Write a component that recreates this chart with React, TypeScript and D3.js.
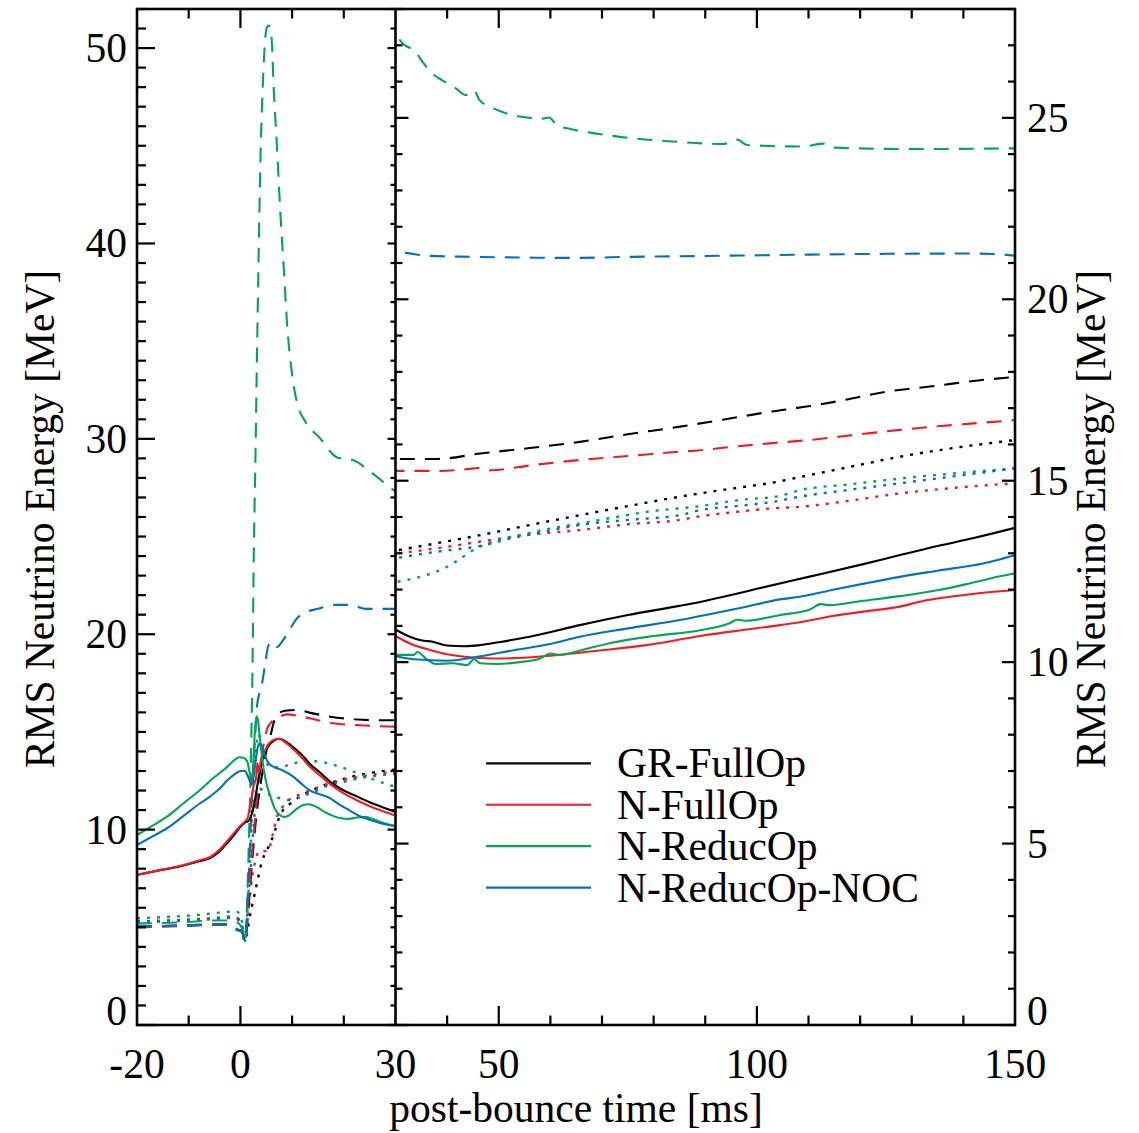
import React from "react";
import * as d3 from "d3";

// ---------- data: [post-bounce time (ms), RMS energy (MeV)] ----------
// solid = nu_e, dotted = anti-nu_e, dashed = nu_x
const grNue: [number, number][] = [[-20,7.68],[-16,7.9],[-12,8.1],[-8,8.38],[-5.85,8.55],[-4,8.9],[-2.6,9.3],[-1,9.8],[0,10.15],[0.8,10.35],[1.6,10.45],[2.2,10.8],[2.6,11.2],[3.5,12.6],[4.5,13.8],[5.5,14.3],[6.5,14.55],[7.5,14.65],[8.5,14.55],[10.3,14.2],[12,13.8],[13.5,13.35],[15.5,12.9],[17.5,12.42],[20,12.0],[22.5,11.7],[25,11.4],[27.5,11.15],[30,10.9],[32,10.75],[35.5,10.59],[37,10.57],[40,10.46],[43.3,10.44],[46.4,10.47],[50,10.55],[56,10.7],[65.7,11.02],[75,11.3],[85,11.55],[89,11.66],[95,11.85],[100,12.02],[110,12.35],[120,12.68],[127.7,12.95],[135,13.2],[142,13.42],[150,13.7]];
const nFullNue: [number, number][] = [[-20,7.68],[-16,7.9],[-12,8.12],[-8,8.42],[-5.85,8.6],[-4,8.98],[-2.6,9.4],[-1,9.9],[0,10.2],[0.8,10.4],[1.4,10.6],[2.0,11.4],[2.6,12.3],[3.0,12.6],[3.3,13.4],[3.6,12.9],[4.0,13.6],[4.5,13.9],[5.5,14.4],[6.5,14.6],[7.5,14.65],[8.5,14.5],[10.3,14.1],[12,13.65],[13.5,13.2],[15.5,12.75],[17.5,12.3],[20,11.85],[22.5,11.5],[25,11.2],[27.5,10.95],[30,10.72],[33,10.5],[36.8,10.33],[40,10.22],[43.3,10.15],[49,10.1],[55,10.12],[59.2,10.17],[70,10.33],[78.6,10.47],[89,10.72],[97,10.88],[104.5,11.02],[108.3,11.1],[115,11.28],[121,11.4],[127.7,11.53],[132,11.68],[137.4,11.8],[143,11.9],[150,11.99]];
const nReducNue: [number, number][] = [[-20,9.72],[-17,10.2],[-14.2,10.66],[-11,11.35],[-7.8,12.03],[-5.85,12.5],[-4,12.9],[-2.6,13.2],[-1.2,13.55],[-0.2,13.7],[0.6,13.68],[1.3,13.5],[1.8,12.9],[2.2,12.3],[2.5,13.5],[2.8,15.0],[3.1,15.8],[3.4,15.6],[3.8,14.6],[4.5,13.1],[5.2,12.2],[5.8,11.7],[6.6,11.1],[7.4,10.8],[8.3,10.65],[9.2,10.7],[10.6,11.0],[12,11.25],[13.2,11.3],[14.8,11.15],[16,10.95],[17.5,10.75],[19.4,10.58],[21,10.55],[22.5,10.62],[24,10.65],[25.5,10.55],[27.5,10.35],[30,10.2],[33.6,10.2],[34.2,10.28],[36.2,10.06],[37.8,9.95],[41,9.97],[43.9,9.92],[45.2,10.08],[46.4,9.97],[49.7,9.95],[54,10.0],[58,10.1],[60,10.24],[61.8,10.2],[66,10.33],[72.1,10.54],[80,10.72],[89,10.88],[94.7,11.07],[96.2,11.17],[97.9,11.14],[104.5,11.3],[110.3,11.45],[112.3,11.6],[114.2,11.57],[120,11.68],[127.7,11.82],[135,11.98],[140.6,12.15],[145,12.3],[150,12.45]];
const nNocNue: [number, number][] = [[-20,9.21],[-17,9.65],[-14.2,10.07],[-11,10.7],[-7.8,11.35],[-5.85,11.7],[-4,12.1],[-2.6,12.5],[-1,12.85],[0,13.0],[0.9,13.0],[1.5,12.7],[2.2,12.3],[2.7,13.0],[3.2,14.0],[3.6,14.4],[4.0,14.35],[4.6,13.9],[5.45,13.4],[6.5,13.2],[8.0,13.05],[10.3,12.7],[12,12.3],[13.5,12.0],[15.5,11.8],[17.4,11.6],[19,11.3],[21,11.0],[23,10.7],[25,10.5],[27.5,10.3],[30,10.17],[33.6,10.08],[40,10.04],[45.2,10.13],[52.9,10.33],[60,10.5],[65.7,10.7],[75,10.93],[85.1,11.16],[89,11.27],[97,11.5],[104.5,11.73],[108.3,11.8],[115,12.0],[121,12.17],[127.7,12.35],[135,12.52],[143.8,12.72],[147,12.83],[150,12.95]];

const grNux: [number, number][] = [[-20,5.05],[-15,5.07],[-10,5.1],[-5,5.15],[-2.5,5.15],[-1.5,5.05],[-0.7,4.9],[0.3,4.8],[0.9,4.3],[1.5,5.8],[2,7.5],[3,10.5],[4,12.5],[5,14],[6,15.0],[6.4,15.44],[7.35,15.95],[9,16.1],[11,16.12],[14,15.95],[17.4,15.78],[22,15.65],[26,15.6],[30,15.6],[34,15.6],[38,15.6],[46.4,15.75],[56,15.9],[65.7,16.07],[75,16.28],[85.1,16.49],[95,16.72],[102.5,16.9],[110,17.05],[116.8,17.22],[125,17.45],[135,17.62],[142,17.75],[150,17.86]];
const nFullNux: [number, number][] = [[-20,5.0],[-15,5.03],[-10,5.07],[-5,5.12],[-2.5,5.12],[-1.5,5.0],[-0.7,4.85],[0.3,4.8],[0.9,4.3],[1.5,6.2],[2,8],[3,11],[4,13.5],[5.1,15.1],[6,15.5],[7.1,15.7],[9,15.9],[11.6,15.8],[15,15.6],[18,15.44],[24,15.33],[30,15.27],[38,15.27],[44,15.32],[46,15.35],[48,15.28],[50,15.3],[56,15.42],[65.7,15.57],[75,15.68],[85,15.8],[89,15.84],[95,15.93],[102.5,16.03],[110,16.12],[120,16.28],[127.7,16.4],[135,16.5],[142,16.58],[150,16.67]];
const nReducNux: [number, number][] = [[-20,5.2],[-15,5.22],[-10,5.27],[-5,5.35],[-2.5,5.35],[-1.2,5.3],[-0.3,5.2],[0.4,4.9],[0.9,4.3],[1.2,5.5],[1.5,8],[1.8,11],[2.1,14.5],[2.35,18.5],[2.58,23.9],[2.9,28.9],[3.2,34.2],[3.55,39.7],[3.87,44.2],[4.3,47.9],[4.84,50.6],[5.2,51.1],[5.5,51.15],[6.0,50.6],[6.45,47.9],[7.1,44.8],[7.74,41.5],[8.4,38.7],[9.0,36.0],[10.0,33.3],[11.0,31.8],[12.3,31.0],[15.5,30.0],[18.7,29.05],[21.9,28.9],[25.2,28.3],[30,27.3],[31.4,27.05],[34,26.8],[35.2,26.55],[37.5,26.18],[39,26.04],[41.7,25.81],[43.6,25.63],[45.2,25.75],[46.3,25.49],[49,25.26],[54.4,25.03],[58.5,24.98],[59.7,25.01],[61.3,24.8],[64.3,24.68],[69.7,24.55],[75.8,24.44],[83.5,24.35],[93.5,24.28],[96.2,24.4],[98.1,24.25],[108.8,24.21],[113,24.29],[115,24.18],[129.5,24.14],[150,24.16]];
const nNocNux: [number, number][] = [[-20,5.05],[-15,5.07],[-10,5.1],[-5,5.15],[-2.5,5.15],[-1.5,5.05],[-0.7,4.9],[0.3,4.75],[0.9,4.3],[1.5,7],[2.3,12],[2.8,14.5],[3.2,16.3],[3.7,17.0],[4.2,17.5],[4.8,18.5],[5.45,19.45],[6.2,19.6],[7.1,19.35],[8.0,19.6],[9.0,20.0],[10.9,20.8],[12.9,21.15],[15,21.3],[18,21.5],[21,21.5],[24.5,21.3],[27,21.3],[30,21.3],[32,21.28],[36,21.2],[45.2,21.17],[55,21.15],[64.3,21.14],[75.8,21.17],[88,21.19],[98.8,21.21],[110,21.23],[121.8,21.25],[141,21.26],[146,21.25],[150,21.2]];

const grAnue: [number, number][] = [[-20,5.3],[-15,5.33],[-10,5.38],[-5,5.45],[-2,5.5],[-0.7,5.45],[0.2,5.2],[0.8,4.3],[2,5.8],[3,7.0],[4.2,8.4],[5,8.9],[5.8,9.3],[6.5,9.8],[7.7,10.75],[10,11.4],[12.2,11.8],[15,12.15],[20,12.6],[25,12.9],[30,13.07],[35,13.2],[40,13.33],[46.4,13.5],[55,13.75],[65.7,14.05],[75,14.3],[85.1,14.56],[95,14.78],[103.2,14.95],[108.3,15.1],[118,15.38],[127.7,15.66],[138,15.9],[150,16.12]];
const nFullAnue: [number, number][] = [[-20,5.25],[-15,5.3],[-10,5.35],[-5,5.42],[-2,5.48],[-0.7,5.42],[0.2,5.1],[0.9,4.3],[1.5,5.6],[2,7.0],[3,8.5],[3.6,8.9],[5.3,8.9],[6.3,9.8],[7.0,10.6],[8,11.1],[9.3,11.5],[12,11.85],[15.4,12.2],[20,12.55],[25,12.8],[30,12.98],[35,13.08],[40,13.18],[46.4,13.32],[55,13.5],[65.7,13.64],[75,13.8],[85.1,13.92],[89,14.02],[96,14.14],[103.2,14.24],[108.3,14.28],[118,14.45],[127.7,14.65],[138,14.8],[150,14.93]];
const nReducAnue: [number, number][] = [[-20,5.46],[-15,5.52],[-10,5.6],[-5,5.72],[-2.5,5.8],[-0.7,5.8],[0.2,5.4],[0.9,4.3],[1.4,6],[1.8,8],[2.3,11],[2.7,13],[3.1,14.3],[3.5,14.9],[4.0,14.2],[4.5,13.7],[5.2,13.35],[5.8,13.2],[7.5,13.2],[9.3,13.3],[12.2,13.5],[14.8,13.5],[17.1,13.38],[20,13.15],[24.5,12.7],[27,12.45],[30,12.22],[33.6,12.31],[36,12.4],[40,12.63],[42,12.8],[45.2,13.1],[49.7,13.36],[54,13.5],[59.2,13.66],[65.7,13.82],[72,13.98],[78.6,14.14],[89,14.3],[96.7,14.47],[104.5,14.58],[108.3,14.74],[118,14.9],[127.7,15.06],[138,15.2],[150,15.34]];
const nNocAnue: [number, number][] = [[-20,5.3],[-15,5.33],[-10,5.4],[-5,5.47],[-2,5.55],[-0.7,5.5],[0.2,5.15],[0.9,4.3],[1.4,6],[2,8],[2.8,11],[3.5,12.1],[4.5,12.0],[5.5,11.8],[6.4,11.68],[7.9,11.6],[9.7,11.5],[12,11.72],[14.8,12.0],[16.4,12.2],[20,12.45],[25,12.72],[30,12.86],[35,12.98],[40,13.08],[46.4,13.2],[52,13.4],[59.2,13.6],[65.7,13.78],[75,13.92],[85.1,14.05],[89,14.19],[96,14.3],[103.2,14.42],[108.3,14.56],[118,14.75],[127.7,14.93],[138,15.12],[150,15.34]];

const modelNames = ["GR-FullOp", "N-FullOp", "N-ReducOp", "N-ReducOp-NOC"];
const modelColors = ["#000000", "#ee1c24", "#00a650", "#0072bc"];
const nueSeries = [grNue, nFullNue, nReducNue, nNocNue];
const anueSeries = [grAnue, nFullAnue, nReducAnue, nNocAnue];
const nuxSeries = [grNux, nFullNux, nReducNux, nNocNux];

const leftYTicks = [0, 10, 20, 30, 40, 50];
const rightYTicks = [0, 5, 10, 15, 20, 25];
const leftXTicks = [-20, 0, 30];
const rightXTicks = [50, 100, 150];

const yTitle = "RMS Neutrino Energy [MeV]";
const xTitle = "post-bounce time [ms]";

// ---------- layout ----------
const W = 1139, H = 1133;
const X0 = 137, XM = 395.5, X1 = 1015, YT = 9, YB = 1025;
const FONT = "'Liberation Serif', 'Times New Roman', Times, serif";

const xL = d3.scaleLinear().domain([-20, 30]).range([X0, XM]);
const xR = d3.scaleLinear().domain([30, 150]).range([XM, X1]);
const yL = d3.scaleLinear().domain([0, 52]).range([YB, YT]);
const yR = d3.scaleLinear().domain([0, 28]).range([YB, YT]);

const DASH = { solid: undefined, dotted: "3 7", dashed: "15 10" } as const;

function makePath(data: [number, number][], xs: d3.ScaleLinear<number, number>, ys: d3.ScaleLinear<number, number>) {
  const [a, b] = xs.domain();
  let i0 = data.findIndex((d) => d[0] >= a);
  let i1 = data.length - 1;
  for (let i = data.length - 1; i >= 0; i--) { if (data[i][0] <= b) { i1 = i; break; } }
  i0 = Math.max(0, i0 - 1);
  i1 = Math.min(data.length - 1, i1 + 1);
  const sub = data.slice(i0, i1 + 1);
  const line = d3.line<[number, number]>().x((d) => xs(d[0])).y((d) => ys(d[1])).curve(d3.curveMonotoneX);
  return line(sub) || "";
}

function Panel({ xs, ys, clip }: { xs: any; ys: any; clip: string }) {
  const groups: any[] = [];
  const kinds: [typeof nueSeries, keyof typeof DASH][] = [[anueSeries, "dotted"], [nuxSeries, "dashed"], [nueSeries, "solid"]];
  kinds.forEach(([set, kind]) => {
    set.forEach((s, m) => {
      groups.push(
        <path key={kind + m} d={makePath(s, xs, ys)} fill="none" stroke={modelColors[m]}
          strokeWidth={kind === "dotted" ? 2.4 : 2.1}
          strokeDasharray={DASH[kind]} strokeLinejoin="round" />
      );
    });
  });
  return <g clipPath={`url(#${clip})`}>{groups}</g>;
}

export default function App() {
  const tickStroke = 2.2;
  const ticks: any[] = [];
  // left panel, left axis and divider
  d3.range(0, 53, 1).forEach((v) => {
    const y = yL(v);
    const major = v % 10 === 0;
    ticks.push(<line key={"ll" + v} x1={X0} x2={X0 + (major ? 18 : 9)} y1={y} y2={y} stroke="#000" strokeWidth={tickStroke} />);
    ticks.push(<line key={"lr" + v} x1={XM} x2={XM - (major ? 8 : 5)} y1={y} y2={y} stroke="#000" strokeWidth={tickStroke} />);
  });
  // right panel, both edges
  d3.range(0, 29, 1).forEach((v) => {
    const y = yR(v);
    const major = v % 5 === 0;
    const len = major ? 13 : 7;
    ticks.push(<line key={"rl" + v} x1={XM} x2={XM + len} y1={y} y2={y} stroke="#000" strokeWidth={tickStroke} />);
    ticks.push(<line key={"rr" + v} x1={X1} x2={X1 - len} y1={y} y2={y} stroke="#000" strokeWidth={tickStroke} />);
  });
  // x ticks
  [-10, 0, 10, 20].forEach((t) => {
    const x = xL(t);
    const len = t === 0 ? 19 : 9.5;
    ticks.push(<line key={"lb" + t} x1={x} x2={x} y1={YB} y2={YB - len} stroke="#000" strokeWidth={tickStroke} />);
    ticks.push(<line key={"lt" + t} x1={x} x2={x} y1={YT} y2={YT + len} stroke="#000" strokeWidth={tickStroke} />);
  });
  d3.range(40, 150, 10).forEach((t) => {
    const x = xR(t);
    const len = t % 50 === 0 ? 19 : 9.5;
    ticks.push(<line key={"rb" + t} x1={x} x2={x} y1={YB} y2={YB - len} stroke="#000" strokeWidth={tickStroke} />);
    ticks.push(<line key={"rt" + t} x1={x} x2={x} y1={YT} y2={YT + len} stroke="#000" strokeWidth={tickStroke} />);
  });

  const fs = 41.5;
  return (
    <svg width={W} height={H} style={{ position: "absolute", left: 0, top: 0, background: "#fff" }} fontFamily={FONT}>
      <defs>
        <clipPath id="clipL"><rect x={X0} y={YT} width={XM - X0} height={YB - YT} /></clipPath>
        <clipPath id="clipR"><rect x={XM} y={YT} width={X1 - XM} height={YB - YT} /></clipPath>
      </defs>
      <rect x={0} y={0} width={W} height={H} fill="#fff" />
      <Panel xs={xL} ys={yL} clip="clipL" />
      <Panel xs={xR} ys={yR} clip="clipR" />

      {/* frame */}
      <rect x={X0} y={YT} width={X1 - X0} height={YB - YT} fill="none" stroke="#000" strokeWidth={2.6} />
      <line x1={XM} x2={XM} y1={YT} y2={YB} stroke="#000" strokeWidth={2.6} />
      {ticks}

      {/* y tick labels */}
      {leftYTicks.map((v) => (
        <text key={"lyl" + v} x={127} y={v === 0 ? YB : yL(v) + 14} fontSize={fs} textAnchor="end">{v}</text>
      ))}
      {rightYTicks.map((v) => (
        <text key={"ryl" + v} x={1027} y={v === 0 ? YB : yR(v) + 14} fontSize={fs} textAnchor="start">{v}</text>
      ))}
      {/* x tick labels */}
      {leftXTicks.map((t) => (
        <text key={"lxl" + t} x={xL(t)} y={1078} fontSize={fs} textAnchor="middle">{t}</text>
      ))}
      {rightXTicks.map((t) => (
        <text key={"rxl" + t} x={xR(t)} y={1078} fontSize={fs} textAnchor="middle">{t}</text>
      ))}

      {/* titles */}
      <text x={(X0 + X1) / 2} y={1122} fontSize={fs} textAnchor="middle">{xTitle}</text>
      <text transform={`translate(54,${(YT + YB) / 2 + 2}) rotate(-90)`} fontSize={fs} textAnchor="middle">{yTitle}</text>
      <text transform={`translate(1105,${(YT + YB) / 2 + 2}) rotate(-90)`} fontSize={fs} textAnchor="middle">{yTitle}</text>

      {/* legend */}
      {modelNames.map((name, i) => {
        const y = 763.3 + i * 41.45;
        return (
          <g key={name}>
            <line x1={486} x2={591} y1={y} y2={y} stroke={modelColors[i]} strokeWidth={2.2} />
            <text x={617} y={y + 14} fontSize={fs}>{name}</text>
          </g>
        );
      })}
    </svg>
  );
}
